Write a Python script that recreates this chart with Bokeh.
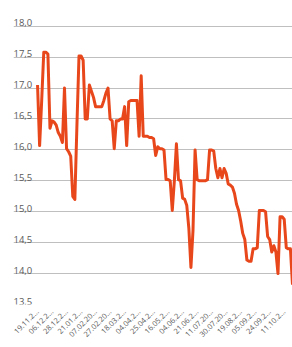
import math
from bokeh.plotting import figure
from bokeh.models import Range1d, FixedTicker, Label
from bokeh.embed import file_html
from bokeh.resources import INLINE

# daily values (one value per category step)
values = [
    17.05, 16.07, 16.80, 17.58, 17.58, 17.55, 16.35, 16.47, 16.45, 16.40,
    16.28, 16.22, 16.12, 17.00, 16.02, 15.97, 15.90, 15.25, 15.20, 16.40,
    17.52, 17.52, 17.45, 16.50, 16.50, 17.05, 16.95, 16.85, 16.70, 16.70,
    16.70, 16.70, 16.80, 16.92, 17.00, 16.50, 16.47, 16.02, 16.47, 16.47,
    16.50, 16.50, 16.70, 16.07, 16.78, 16.80, 16.80, 16.80, 16.80, 16.22,
    17.20, 16.22, 16.22, 16.22, 16.20, 16.20, 16.18, 15.91, 16.05, 16.02,
    16.02, 16.00, 15.52, 15.52, 15.50, 15.02, 15.50, 16.10, 15.52, 15.50,
    15.22, 15.20, 15.10, 14.73, 14.10, 14.70, 16.00, 15.52, 15.50, 15.50,
    15.50, 15.50, 15.52, 16.00, 16.00, 15.98, 15.70, 15.55, 15.70, 15.55,
    15.70, 15.62, 15.45, 15.43, 15.40, 15.30, 15.12, 15.02, 14.85, 14.65,
    14.55, 14.22, 14.20, 14.20, 14.40, 14.40, 14.42, 15.02, 15.02, 15.02,
    15.00, 14.60, 14.55, 14.35, 14.45, 14.35, 14.00, 14.92, 14.92, 14.88,
    14.42, 14.40, 14.40, 13.82,
]
x_labels = [
    "19.11.2...", "06.12.2...", "28.12.2...", "21.01.2...", "07.02.20...",
    "27.02.20...", "18.03.2...", "04.04.2...", "25.04.2...", "16.05.2...",
    "04.06.2...", "21.06.2...", "11.07.20...", "30.07.20...", "19.08.2...",
    "05.09.2...", "24.09.2...", "11.10.2...",
]
label_step = 7
y_ticks = [13.5, 14.0, 14.5, 15.0, 15.5, 16.0, 16.5, 17.0, 17.5, 18.0]

xs = list(range(len(values)))

p = figure(width=292, height=347, output_backend="svg", toolbar_location=None,
           x_range=Range1d(-11.6, len(values) - 1), y_range=Range1d(13.5, 18.19),
           min_border_left=13, min_border_right=0, min_border_top=14,
           min_border_bottom=43)
p.background_fill_color = "white"
p.border_fill_color = "white"
p.outline_line_color = None

p.line(xs, values, line_color="#e8471c", line_width=3, line_join="round")

p.yaxis.visible = False
p.xgrid.visible = False
p.ygrid.ticker = FixedTicker(ticks=y_ticks)
p.ygrid.grid_line_color = "#bfbfbf"
p.ygrid.grid_line_width = 1

xa = p.xaxis[0]
xa.ticker = FixedTicker(ticks=[i * label_step for i in range(len(x_labels))])
xa.major_label_overrides = {i * label_step: lab for i, lab in enumerate(x_labels)}
xa.major_label_orientation = math.pi / 4
xa.axis_line_color = None
xa.major_tick_line_color = None
xa.minor_tick_line_color = None
xa.major_tick_out = 0
xa.major_tick_in = 0
xa.major_label_text_font = "Open Sans"
xa.major_label_text_font_size = "7.5px"
xa.major_label_text_color = "#595959"
xa.major_label_standoff = 6

for v in y_ticks:
    p.add_layout(Label(x=0, y=v, x_units="screen", y_units="data",
                       text=f"{v:.1f}".replace(".", ","), text_baseline="bottom",
                       text_align="left", text_font="Open Sans",
                       text_font_size="9.5px", text_color="#595959", y_offset=0))

open("out.html", "w").write(file_html(p, INLINE))
